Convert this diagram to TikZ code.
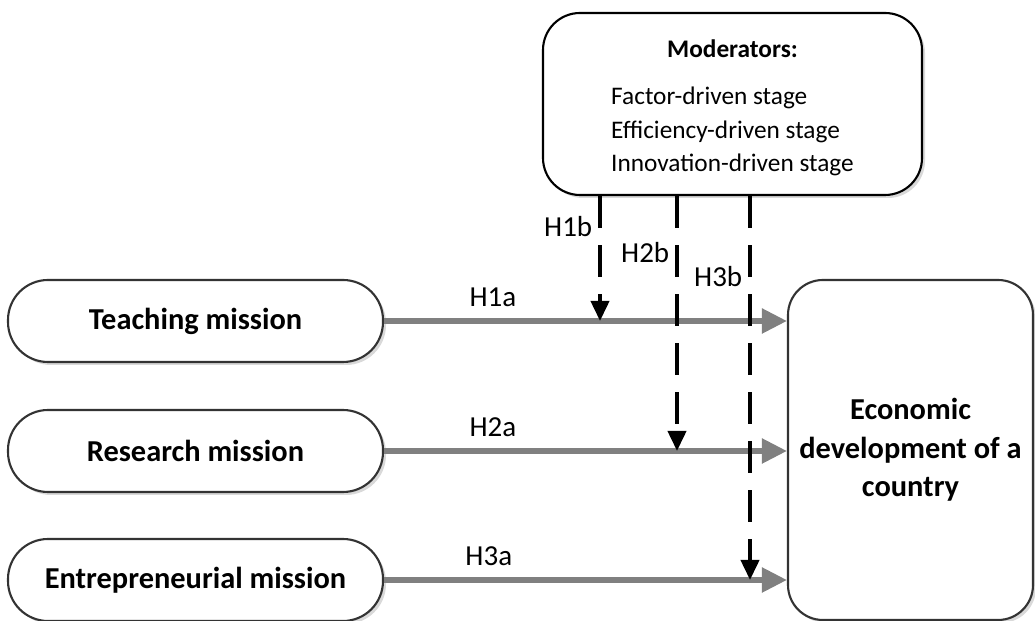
\documentclass[tikz,border=0pt]{standalone}
\usepackage{fontspec}
\setmainfont{Carlito}
\usetikzlibrary{arrows.meta,shadows}

\tikzset{
  boxshadow/.style={drop shadow={shadow xshift=0.06cm, shadow yshift=-0.06cm, fill=black!15, opacity=1}},
  mission/.style={draw=black!80, line width=1.2pt, fill=white, boxshadow,
    rounded corners=0.8cm, minimum width=7.5cm, minimum height=1.64cm,
    font=\fontsize{17.3}{20}\selectfont\bfseries},
  outcome/.style={draw=black!80, line width=1.2pt, fill=white, boxshadow,
    rounded corners=0.7cm, minimum width=4.9cm, minimum height=6.8cm, align=center,
    font=\fontsize{17.3}{21.8}\selectfont\bfseries},
  moderator/.style={draw=black, line width=1.2pt, fill=white, boxshadow,
    rounded corners=0.74cm, minimum width=7.58cm, minimum height=3.64cm,
    font=\fontsize{14.4}{18.9}\selectfont},
  mainarrow/.style={draw=black!50, line width=3pt, -{Triangle[length=0.5cm,width=0.48cm]}},
  modline/.style={draw=black, line width=2.2pt, dash pattern=on 0.64cm off 0.34cm,
    -{Triangle[length=0.4cm,width=0.36cm]}},
  hlabel/.style={font=\fontsize{16.5}{19}\selectfont}
}

\begin{document}
\begin{tikzpicture}[x=1cm,y=1cm]
\useasboundingbox (0,0) rectangle (20.7,12.42);

% boxes
\node[mission] (teach) at (3.91,6.0) {Teaching mission};
\node[mission] (research) at (3.91,3.4) {Research mission};
\node[mission] (entre) at (3.91,0.82) {Entrepreneurial mission};
\node[outcome] (econ) at (18.21,3.42) {Economic\\ development of a\\ country};
\node[moderator] (mod) at (14.65,10.34) {\begin{tabular}{@{}l@{}}
  \multicolumn{1}{c}{\rule{0pt}{17.6pt}\bfseries Moderators:}\\[8pt]
  Factor-driven stage\\
  Efficiency-driven stage\\
  Innovation-driven stage
\end{tabular}};

% direct effects
\draw[mainarrow] (teach.east) -- node[hlabel, above=0.12cm, pos=.27] {H1a} (teach.east -| econ.west);
\draw[mainarrow] (research.east) -- node[hlabel, above=0.12cm, pos=.27] {H2a} (research.east -| econ.west);
\draw[mainarrow] (entre.east) -- node[hlabel, above=0.12cm, pos=.26] {H3a} (entre.east -| econ.west);

% moderating effects
\path (12.0,0) coordinate (x1) (13.54,0) coordinate (x2) (15.0,0) coordinate (x3);
\draw[modline] (mod.south -| x1) -- node[hlabel, left, pos=.24] {H1b} (teach.east -| x1);
\draw[modline] (mod.south -| x2) -- node[hlabel, left, pos=.22] {H2b} (research.east -| x2);
\draw[modline] (mod.south -| x3) -- node[hlabel, left, pos=.21] {H3b} (entre.east -| x3);
\end{tikzpicture}
\end{document}
